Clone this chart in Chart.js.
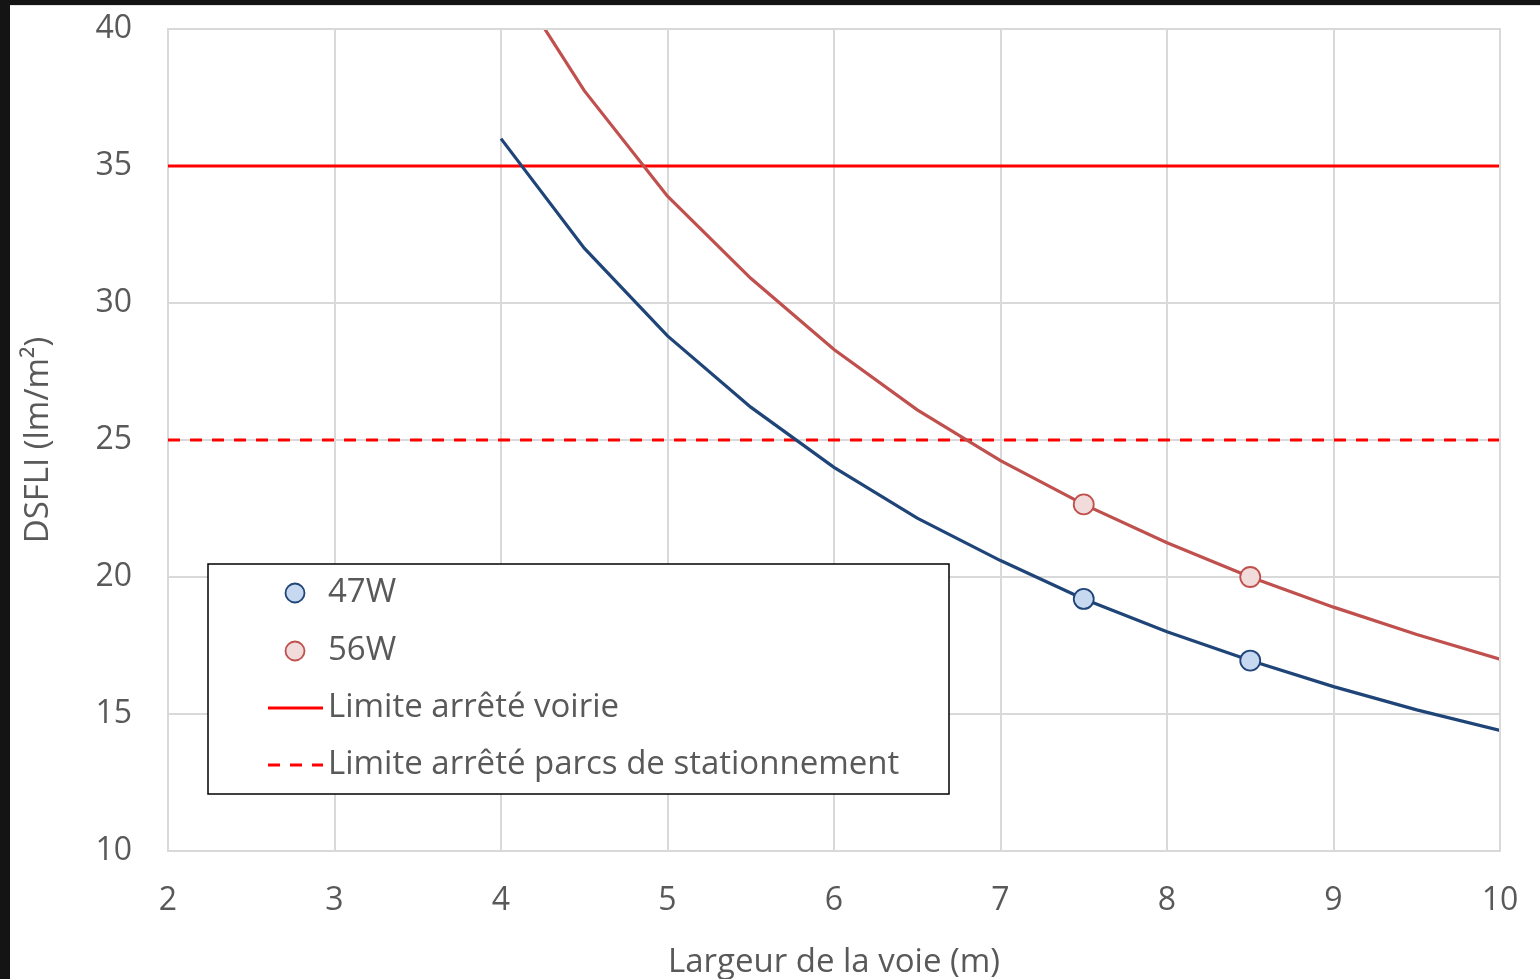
<!DOCTYPE html>
<html>
<head>
<meta charset="utf-8">
<script src="https://cdn.jsdelivr.net/npm/chart.js@4.4.0/dist/chart.umd.min.js"></script>
<style>
  html, body { margin: 0; padding: 0; background: #141414; overflow: hidden; }
  #wrap { position: absolute; left: 10px; top: 5px; width: 1530px; height: 974px; background: #fff; overflow: hidden; border-top: 1px solid #e4e4e4; box-sizing: border-box; }
  #box { position: absolute; left: 0; top: -1px; width: 1530px; height: 980px; }
</style>
</head>
<body>
<div id="wrap"><div id="box"><canvas id="chart"></canvas></div></div>
<script>
  // largeur de la voie (m)
  const largeurs = [4, 4.5, 5, 5.5, 6, 6.5, 7, 7.5, 8, 8.5, 9, 9.5, 10]
  // DSFLI
  const dsfli47 = [36.0, 32.0, 28.8, 26.2, 24.0, 22.15, 20.6, 19.2, 18.0, 16.95, 16.0, 15.15, 14.4]
  const dsfli56 = [42.5, 37.75, 33.9, 30.9, 28.3, 26.1, 24.25, 22.65, 21.25, 20.0, 18.9, 17.9, 17.0]
  // points marqués
  const pointsMarques = [7.5, 8.5]
  // limites
  const limiteXs = [2, 10]
  const limiteVoirie = 35
  const limiteParcs = 25
  const xTicks = [2, 3, 4, 5, 6, 7, 8, 9, 10]
  const yTicks = [10, 15, 20, 25, 30, 35, 40]

  const police = "'Open Sans', sans-serif"
  const gris = '#595959'

  function serie(ys) {
    return largeurs.map((x, i) => ({x: x, y: ys[i]}))
  }
  function rayon(ctx) {
    const p = ctx.raw
    return p && pointsMarques.includes(p.x) ? 10 : 0
  }

  // legende dessinee dans la zone du graphique
  const legendeBoite = {
    id: 'legendeBoite',
    afterDraw(chart) {
      const ctx = chart.ctx
      const bx = 198, by = 559, bw = 741, bh = 230
      ctx.save()
      ctx.fillStyle = '#fff'
      ctx.fillRect(bx, by, bw, bh)
      ctx.strokeStyle = '#000'
      ctx.lineWidth = 1.5
      ctx.strokeRect(bx, by, bw, bh)
      ctx.font = '33px ' + police
      ctx.textBaseline = 'middle'
      ctx.textAlign = 'left'
      const ys = [588, 646, 703, 760]
      chart.data.datasets.forEach((ds, i) => {
        const y = ys[i]
        if (ds.legendeType === 'point') {
          ctx.beginPath()
          ctx.arc(285, y, 9.5, 0, Math.PI * 2)
          ctx.fillStyle = ds.pointBackgroundColor
          ctx.fill()
          ctx.lineWidth = 1.8
          ctx.strokeStyle = ds.pointBorderColor
          ctx.stroke()
        } else {
          ctx.beginPath()
          ctx.setLineDash(ds.borderDash || [])
          ctx.moveTo(258, y)
          ctx.lineTo(313, y)
          ctx.lineWidth = 3
          ctx.strokeStyle = ds.borderColor
          ctx.stroke()
          ctx.setLineDash([])
        }
        ctx.fillStyle = gris
        ctx.fillText(ds.label, 318, y)
      })
      ctx.restore()
    }
  }

  new Chart(document.getElementById('chart'), {
    type: 'line',
    data: {
      datasets: [
        {
          label: '47W',
          legendeType: 'point',
          data: serie(dsfli47),
          borderColor: '#1f4478',
          borderWidth: 3.2,
          pointRadius: rayon,
          pointHoverRadius: rayon,
          pointBackgroundColor: '#c6d9f0',
          pointBorderColor: '#1f4478',
          pointBorderWidth: 1.8,
          order: 2
        },
        {
          label: '56W',
          legendeType: 'point',
          data: serie(dsfli56),
          borderColor: '#c0504d',
          borderWidth: 3.2,
          pointRadius: rayon,
          pointHoverRadius: rayon,
          pointBackgroundColor: '#f2dcdb',
          pointBorderColor: '#c0504d',
          pointBorderWidth: 1.8,
          order: 1
        },
        {
          label: 'Limite arrêté voirie',
          legendeType: 'ligne',
          data: limiteXs.map(x => ({x: x, y: limiteVoirie})),
          borderColor: '#ff0000',
          borderWidth: 3,
          pointRadius: 0,
          order: 3
        },
        {
          label: 'Limite arrêté parcs de stationnement',
          legendeType: 'ligne',
          data: limiteXs.map(x => ({x: x, y: limiteParcs})),
          borderColor: '#ff0000',
          borderWidth: 3,
          borderDash: [12, 10],
          pointRadius: 0,
          order: 4
        }
      ]
    },
    options: {
      responsive: true,
      maintainAspectRatio: false,
      animation: false,
      events: [],
      layout: { padding: { left: 0, right: 40, top: 24, bottom: 0 } },
      plugins: { legend: { display: false }, tooltip: { enabled: false } },
      scales: {
        x: {
          type: 'linear',
          min: 2,
          max: 10,
          afterBuildTicks: s => { s.ticks = xTicks.map(v => ({value: v})) },
          afterFit: s => { s.height = 134; s.paddingLeft = 0; s.paddingRight = 0 },
          grid: { color: '#d9d9d9', lineWidth: 2, drawTicks: false },
          border: { color: '#d9d9d9', width: 2 },
          ticks: { color: gris, font: { family: police, size: 32 }, padding: 31 },
          title: {
            display: true,
            text: 'Largeur de la voie (m)',
            color: gris,
            font: { family: police, size: 33 },
            padding: { top: 0, bottom: 3 }
          }
        },
        y: {
          min: 10,
          max: 40,
          afterBuildTicks: s => { s.ticks = yTicks.map(v => ({value: v})) },
          afterFit: s => { s.width = 158; s.paddingTop = 0; s.paddingBottom = 0 },
          grid: { color: '#d9d9d9', lineWidth: 2, drawTicks: false },
          border: { color: '#d9d9d9', width: 2 },
          ticks: { color: gris, font: { family: police, size: 32 }, padding: 36 },
          title: {
            display: true,
            text: 'DSFLI (lm/m²)',
            color: gris,
            font: { family: police, size: 33 },
            padding: { top: 9, bottom: 0 }
          }
        }
      }
    },
    plugins: [legendeBoite, {
      id: 'cadre',
      afterDraw(chart) {
        const a = chart.chartArea, ctx = chart.ctx
        ctx.save()
        ctx.strokeStyle = '#d9d9d9'
        ctx.lineWidth = 2
        ctx.beginPath()
        ctx.moveTo(a.left, a.top)
        ctx.lineTo(a.right, a.top)
        ctx.lineTo(a.right, a.bottom)
        ctx.stroke()
        ctx.restore()
      }
    }]
  })
</script>
</body>
</html>
